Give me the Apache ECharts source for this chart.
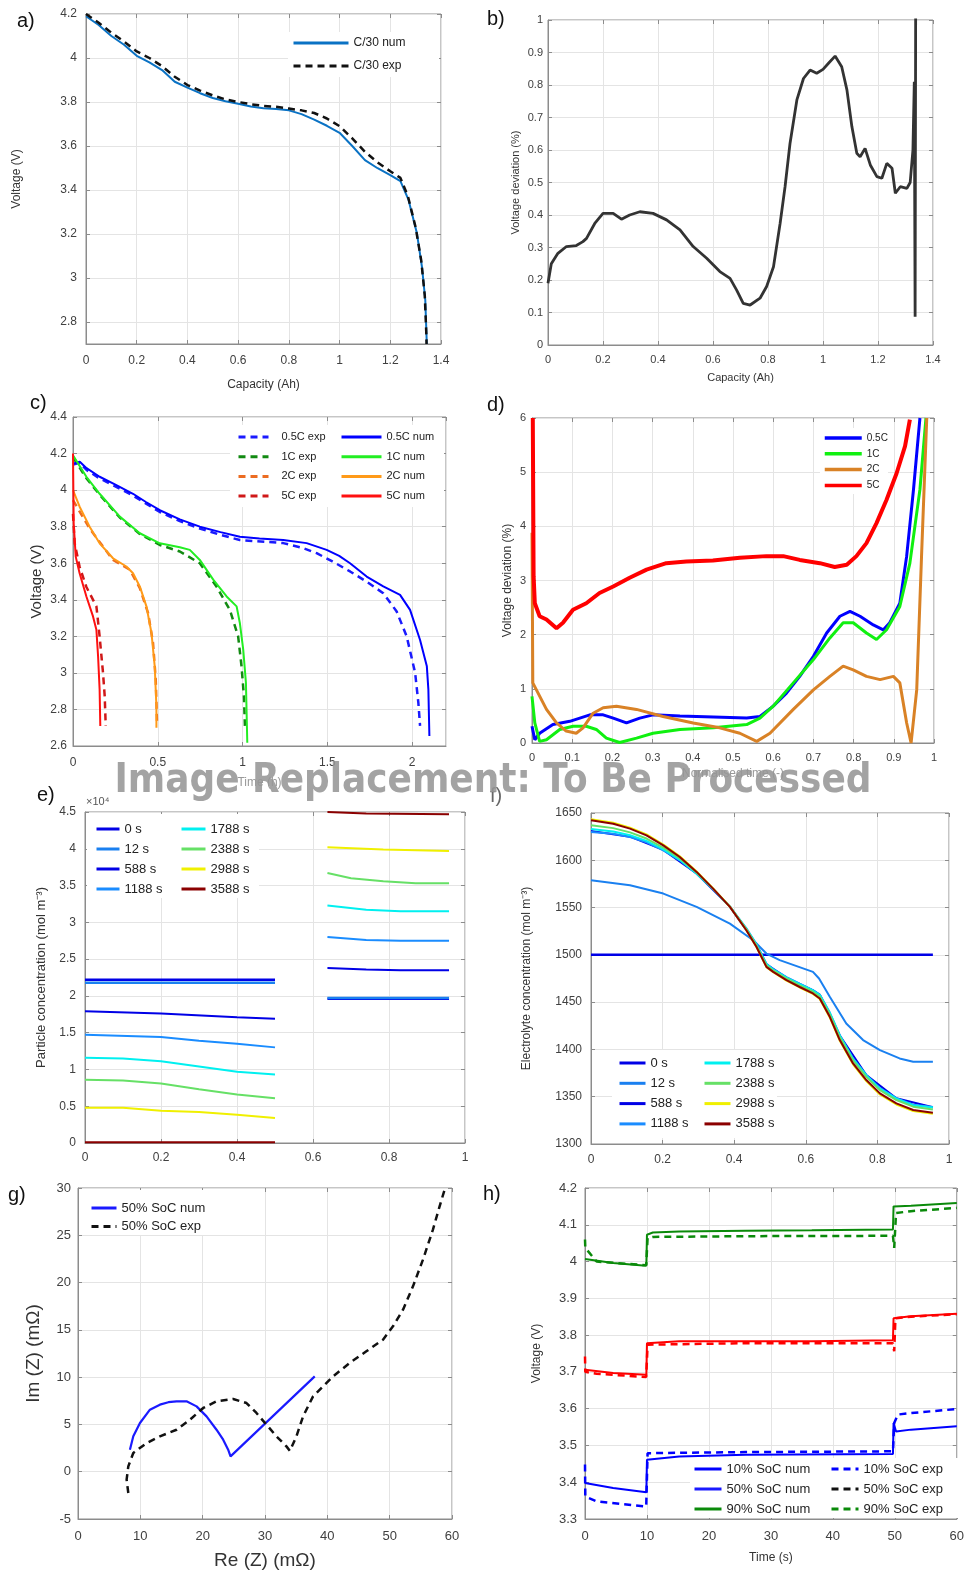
<!DOCTYPE html>
<html>
<head>
<meta charset="utf-8">
<script src="https://cdn.jsdelivr.net/npm/echarts@6/dist/echarts.min.js"></script>
<style>
html,body{margin:0;padding:0;background:#fff;}
#main{width:967px;height:1574px;}
</style>
</head>
<body>
<div id="main"></div>
<script>
// a) C/30 discharge, capacity (Ah) vs voltage (V)
const aVoltTicks = [2.8, 3, 3.2, 3.4, 3.6, 3.8, 4, 4.2];
const aNum = [[0,4.19],[0.05,4.15],[0.1,4.1],[0.15,4.06],[0.2,4.01],[0.25,3.98],[0.3,3.945],[0.35,3.892],[0.4,3.865],[0.45,3.84],[0.5,3.818],[0.55,3.803],[0.6,3.792],[0.65,3.78],[0.7,3.772],[0.75,3.768],[0.8,3.762],[0.85,3.745],[0.9,3.72],[0.95,3.692],[1.0,3.66],[1.05,3.6],[1.1,3.536],[1.15,3.499],[1.2,3.468],[1.24,3.44],[1.272,3.355],[1.305,3.203],[1.325,3.05],[1.338,2.9],[1.344,2.7]];
const aExp = [[0,4.2],[0.05,4.16],[0.1,4.115],[0.15,4.075],[0.2,4.03],[0.25,4.0],[0.3,3.963],[0.35,3.915],[0.4,3.877],[0.45,3.852],[0.5,3.83],[0.55,3.812],[0.6,3.8],[0.65,3.79],[0.7,3.782],[0.75,3.778],[0.8,3.77],[0.85,3.762],[0.9,3.75],[0.95,3.725],[1.0,3.69],[1.05,3.635],[1.1,3.574],[1.15,3.525],[1.2,3.485],[1.24,3.455],[1.27,3.37],[1.3,3.23],[1.322,3.08],[1.336,2.92],[1.342,2.75],[1.343,2.7]];

// b) voltage deviation (%)
const bDev = [[0,0.19],[0.012,0.25],[0.036,0.282],[0.067,0.303],[0.103,0.306],[0.127,0.318],[0.14,0.328],[0.17,0.374],[0.2,0.405],[0.237,0.405],[0.267,0.387],[0.297,0.4],[0.334,0.41],[0.382,0.405],[0.431,0.385],[0.48,0.354],[0.528,0.303],[0.577,0.267],[0.625,0.226],[0.662,0.205],[0.686,0.169],[0.71,0.128],[0.735,0.123],[0.771,0.144],[0.795,0.18],[0.82,0.241],[0.844,0.374],[0.862,0.487],[0.88,0.62],[0.905,0.754],[0.929,0.82],[0.953,0.846],[0.977,0.836],[1.0,0.848],[1.02,0.867],[1.044,0.889],[1.068,0.856],[1.087,0.785],[1.105,0.672],[1.123,0.59],[1.135,0.579],[1.153,0.605],[1.172,0.554],[1.196,0.518],[1.214,0.513],[1.232,0.559],[1.251,0.544],[1.263,0.467],[1.281,0.487],[1.305,0.482],[1.317,0.5],[1.327,0.6],[1.332,0.81],[1.335,0.087],[1.337,1.05]];

// c) rate tests, time (h) vs voltage (V)
const c05Exp = [[0,4.14],[0.04,4.15],[0.08,4.11],[0.157,4.064],[0.354,3.97],[0.512,3.88],[0.63,3.83],[0.748,3.79],[0.87,3.755],[0.984,3.727],[1.24,3.71],[1.35,3.685],[1.437,3.655],[1.53,3.61],[1.634,3.555],[1.73,3.5],[1.83,3.436],[1.909,3.336],[1.968,3.2],[2.018,3.0],[2.037,2.836],[2.047,2.71]];
const c1Exp = [[0,4.18],[0.079,4.065],[0.157,3.975],[0.276,3.85],[0.394,3.76],[0.512,3.7],[0.63,3.664],[0.748,3.6],[0.846,3.473],[0.925,3.345],[0.974,3.2],[0.994,3.036],[1.008,2.873],[1.014,2.71]];
const c2Exp = [[0,3.945],[0.098,3.79],[0.236,3.618],[0.335,3.564],[0.394,3.464],[0.443,3.327],[0.472,3.164],[0.488,2.964],[0.496,2.71]];
const c5Exp = [[0,3.87],[0.01,3.709],[0.039,3.58],[0.079,3.47],[0.138,3.364],[0.157,3.2],[0.177,3.0],[0.187,2.873],[0.193,2.71]];
const c05Num = [[0,4.145],[0.04,4.155],[0.08,4.12],[0.157,4.073],[0.25,4.03],[0.354,3.98],[0.43,3.935],[0.512,3.89],[0.63,3.84],[0.748,3.8],[0.87,3.77],[0.984,3.745],[1.1,3.735],[1.24,3.727],[1.378,3.71],[1.496,3.673],[1.57,3.64],[1.634,3.6],[1.732,3.527],[1.83,3.473],[1.929,3.427],[1.988,3.345],[2.047,3.18],[2.087,3.036],[2.096,2.91],[2.102,2.655]];
const c1Num = [[0,4.19],[0.079,4.073],[0.157,3.98],[0.276,3.855],[0.394,3.764],[0.512,3.709],[0.63,3.687],[0.689,3.673],[0.748,3.618],[0.827,3.51],[0.906,3.418],[0.965,3.364],[0.984,3.273],[1.004,3.127],[1.02,2.945],[1.028,2.618]];
const c2Num = [[0,4.0],[0.039,3.909],[0.098,3.8],[0.157,3.709],[0.236,3.627],[0.315,3.582],[0.354,3.545],[0.394,3.473],[0.433,3.364],[0.463,3.218],[0.482,3.036],[0.492,2.818],[0.492,2.7]];
const c5Num = [[0,4.2],[0.004,3.818],[0.016,3.636],[0.039,3.545],[0.079,3.418],[0.118,3.309],[0.138,3.236],[0.148,3.09],[0.157,2.909],[0.161,2.71]];

// d) voltage deviation (%) vs normalised time
const d05 = [[0,0.31],[0.007,0.06],[0.019,0.18],[0.052,0.34],[0.094,0.4],[0.144,0.52],[0.177,0.52],[0.202,0.46],[0.235,0.37],[0.268,0.46],[0.301,0.52],[0.368,0.5],[0.451,0.48],[0.534,0.46],[0.567,0.49],[0.6,0.68],[0.633,0.92],[0.666,1.23],[0.7,1.6],[0.733,2.03],[0.766,2.34],[0.791,2.43],[0.816,2.34],[0.849,2.18],[0.874,2.09],[0.89,2.22],[0.915,2.58],[0.932,3.45],[0.949,4.68],[0.965,6.0]];
const d1 = [[0,0.86],[0.007,0.37],[0.019,0.03],[0.036,0.06],[0.069,0.25],[0.102,0.31],[0.135,0.31],[0.16,0.25],[0.185,0.09],[0.218,0.01],[0.26,0.09],[0.301,0.18],[0.368,0.25],[0.451,0.28],[0.534,0.34],[0.567,0.46],[0.6,0.68],[0.65,1.11],[0.7,1.54],[0.741,1.94],[0.774,2.22],[0.799,2.22],[0.832,2.03],[0.857,1.91],[0.882,2.09],[0.915,2.52],[0.94,3.32],[0.965,4.68],[0.98,6.0]];
const d2 = [[0,3.88],[0.002,1.11],[0.011,0.98],[0.036,0.62],[0.061,0.37],[0.085,0.22],[0.11,0.18],[0.127,0.28],[0.152,0.55],[0.177,0.65],[0.21,0.68],[0.26,0.62],[0.326,0.49],[0.401,0.37],[0.467,0.28],[0.517,0.18],[0.559,0.03],[0.592,0.18],[0.65,0.62],[0.7,0.98],[0.741,1.23],[0.774,1.42],[0.799,1.35],[0.832,1.23],[0.866,1.17],[0.899,1.23],[0.915,1.11],[0.932,0.37],[0.943,0.0],[0.957,0.98],[0.969,3.45],[0.982,6.0]];
const d5 = [[0.002,6.0],[0.004,3.08],[0.007,2.58],[0.019,2.34],[0.036,2.28],[0.061,2.12],[0.077,2.22],[0.102,2.46],[0.135,2.58],[0.168,2.77],[0.202,2.89],[0.243,3.05],[0.285,3.2],[0.334,3.32],[0.384,3.35],[0.45,3.37],[0.517,3.42],[0.583,3.45],[0.625,3.45],[0.666,3.38],[0.716,3.32],[0.753,3.25],[0.783,3.29],[0.807,3.45],[0.832,3.69],[0.857,4.06],[0.882,4.49],[0.907,4.98],[0.928,5.48],[0.94,5.97]];

// e) particle concentration (x10^4 mol m-3), two electrodes
const e0 = [[0,2.22],[0.5,2.22],[0.57,'-'],[0.638,1.96],[0.958,1.96]];
const e12 = [[0,2.18],[0.5,2.18],[0.57,'-'],[0.638,1.97],[0.958,1.97]];
const e588 = [[0,1.79],[0.2,1.76],[0.4,1.71],[0.5,1.69],[0.57,'-'],[0.638,2.38],[0.74,2.36],[0.83,2.35],[0.958,2.35]];
const e1188 = [[0,1.47],[0.2,1.44],[0.3,1.39],[0.4,1.35],[0.5,1.3],[0.57,'-'],[0.638,2.8],[0.74,2.76],[0.83,2.75],[0.958,2.75]];
const e1788 = [[0,1.16],[0.1,1.15],[0.2,1.11],[0.3,1.04],[0.4,0.97],[0.5,0.93],[0.57,'-'],[0.638,3.23],[0.74,3.17],[0.83,3.15],[0.958,3.15]];
const e2388 = [[0,0.86],[0.1,0.85],[0.2,0.81],[0.3,0.73],[0.4,0.66],[0.5,0.61],[0.57,'-'],[0.638,3.67],[0.7,3.6],[0.785,3.56],[0.87,3.53],[0.958,3.53]];
const e2988 = [[0,0.48],[0.1,0.48],[0.2,0.44],[0.3,0.42],[0.4,0.385],[0.5,0.34],[0.57,'-'],[0.638,4.02],[0.785,3.99],[0.958,3.97]];
const e3588 = [[0,0.01],[0.5,0.01],[0.57,'-'],[0.638,4.5],[0.74,4.48],[0.958,4.47]];

// f) electrolyte concentration (mol m-3)
const f0 = [[0,1500],[0.955,1500]];
const f12 = [[0,1578.9],[0.109,1573.6],[0.202,1564.8],[0.295,1550.7],[0.388,1533],[0.453,1515.5],[0.49,1501.4],[0.527,1494.4],[0.62,1482],[0.637,1475],[0.667,1455.6],[0.713,1427.5],[0.76,1409.9],[0.807,1399.3],[0.862,1390.5],[0.9,1387],[0.955,1387]];
const f588 = [[0,1631],[0.109,1625],[0.202,1611],[0.295,1586],[0.388,1551],[0.462,1511],[0.49,1490],[0.546,1476],[0.62,1462.5],[0.639,1457.8],[0.695,1414.8],[0.769,1372.8],[0.853,1348.3],[0.955,1338.8]];
const f1188 = [[0,1630],[0.062,1628],[0.109,1624.5],[0.155,1619],[0.202,1610.5],[0.248,1600],[0.295,1585.8],[0.341,1569.5],[0.388,1551],[0.434,1528],[0.462,1511.5],[0.49,1490.5],[0.509,1485],[0.546,1476.5],[0.583,1469.5],[0.62,1462.8],[0.639,1458],[0.667,1439],[0.695,1415],[0.732,1390.5],[0.769,1373],[0.807,1359],[0.853,1348.5],[0.9,1341.5],[0.955,1339]];
const f1788 = [[0,1633],[0.062,1630.5],[0.109,1626.5],[0.155,1620.5],[0.202,1611.5],[0.248,1600.5],[0.295,1586],[0.341,1569.5],[0.388,1551],[0.434,1527.5],[0.462,1511],[0.49,1490],[0.509,1484.5],[0.546,1476],[0.583,1469],[0.62,1462.3],[0.639,1457.5],[0.667,1438.5],[0.695,1414.5],[0.732,1390],[0.769,1372.5],[0.807,1358.5],[0.853,1348],[0.9,1341],[0.955,1338.5]];
const f2388 = [[0,1637],[0.062,1634],[0.109,1629.5],[0.155,1623],[0.202,1613.5],[0.248,1602],[0.295,1587],[0.341,1570],[0.388,1551],[0.434,1527],[0.462,1510],[0.49,1489],[0.509,1483.5],[0.546,1475],[0.583,1467.8],[0.62,1461],[0.639,1456],[0.667,1437],[0.695,1413],[0.732,1388.5],[0.769,1371],[0.807,1357],[0.853,1346.5],[0.9,1339.5],[0.955,1336.5]];
const f2988 = [[0,1643.5],[0.062,1639.8],[0.109,1634.5],[0.155,1627.4],[0.202,1616.6],[0.248,1604.2],[0.295,1588.2],[0.341,1570.3],[0.388,1550.9],[0.434,1526.1],[0.462,1508.4],[0.49,1487],[0.509,1481.6],[0.546,1472.8],[0.583,1465.5],[0.62,1458.7],[0.639,1453.3],[0.667,1433.8],[0.695,1409.1],[0.732,1384.3],[0.769,1366.6],[0.807,1352.4],[0.853,1341.8],[0.9,1334.8],[0.955,1332]];
const f3588 = [[0,1642.3],[0.062,1638.7],[0.109,1633.5],[0.155,1626.4],[0.202,1615.8],[0.248,1603.5],[0.295,1587.7],[0.341,1570],[0.388,1550.7],[0.434,1526],[0.462,1508.5],[0.49,1487.3],[0.509,1482],[0.546,1473.2],[0.583,1466],[0.62,1459.2],[0.639,1453.9],[0.667,1434.5],[0.695,1409.9],[0.732,1385.2],[0.769,1367.6],[0.807,1353.5],[0.853,1343],[0.9,1336],[0.955,1333.1]];

// g) Nyquist plot, Re(Z) vs Im(Z) in mOhm
const gNum = [[8.33,2.33],[8.87,3.74],[9.94,5.15],[11.54,6.56],[13.14,7.09],[14.5,7.35],[15.81,7.44],[17.41,7.44],[19.02,6.91],[20.62,5.85],[22.22,4.44],[23.29,3.39],[24.09,2.33],[24.47,1.62],[37.98,10.08]];
const gExp = [[8.07,-2.25],[7.8,-0.84],[8.07,0.57],[8.87,1.98],[11,3.03],[13.14,3.74],[15.81,4.44],[17.95,5.5],[20.09,6.74],[22.22,7.44],[24.89,7.69],[27.03,7.26],[28.63,6.21],[30.24,4.97],[31.84,3.74],[33.44,2.68],[34.0,2.2],[35.04,3.74],[36.11,5.85],[37.71,7.97],[39.32,9.03],[40.92,10.08],[43.59,11.5],[46.26,12.73],[48.93,13.96],[50.53,15.37],[52.14,17.13],[53.74,19.6],[55.34,22.42],[56.94,25.6],[58.01,28.06],[58.81,29.82]];

// h) pulse tests, time (s) vs voltage (V)
const hNum10 = [[0,3.398],[4.54,3.384],[9.9,3.373],[10,3.461],[15.2,3.47],[25.9,3.475],[49.7,3.477],[49.8,3.561],[50.2,3.538],[52.6,3.543],[60,3.552]];
const hNum50 = [[0,3.706],[4.54,3.697],[9.9,3.692],[10,3.778],[15.2,3.783],[36.6,3.783],[49.7,3.786],[49.8,3.846],[52.6,3.851],[60,3.858]];
const hNum90 = [[0,4.007],[4.54,3.996],[9.35,3.989],[9.9,3.989],[10,4.073],[10.95,4.079],[15.2,4.082],[25.9,4.084],[36.6,4.085],[49.7,4.087],[49.8,4.15],[52.6,4.152],[60,4.159]];
const hExp10 = [[0,3.448],[0.05,3.361],[1.87,3.348],[9.88,3.334],[10.1,3.479],[25.9,3.482],[49.7,3.484],[49.9,3.561],[50.5,3.584],[52.6,3.588],[60,3.599]];
const hExp50 = [[0,3.742],[0.05,3.7],[1.87,3.695],[9.88,3.686],[10.1,3.774],[25.9,3.778],[49.7,3.778],[49.9,3.756],[50.1,3.846],[52.6,3.85],[60,3.857]];
const hExp90 = [[0,4.06],[0.05,4.037],[1.87,4.0],[9.88,3.99],[10.1,4.064],[10.95,4.067],[25.9,4.069],[49.7,4.07],[49.9,4.037],[50.2,4.132],[52.6,4.137],[60,4.146]];

const FONT = '"Liberation Sans", Arial, sans-serif';
const grids = [
  {left: 86, top: 14, width: 355, height: 330},
  {left: 548, top: 20, width: 385, height: 325},
  {left: 73, top: 417, width: 373, height: 329},
  {left: 532, top: 418, width: 402, height: 325},
  {left: 85, top: 812, width: 380, height: 331},
  {left: 591, top: 813, width: 358, height: 331},
  {left: 78, top: 1188, width: 374, height: 331},
  {left: 585, top: 1188, width: 374, height: 331}
].map(g => Object.assign({show: true, borderColor: '#8c8c8c', borderWidth: 1}, g));

function axis(gi, min, max, step, o) {
  const ax = {
    type: 'value', gridIndex: gi, min, max, interval: step,
    name: o.name || '', nameLocation: 'middle', nameGap: o.nameGap || 20, nameRotate: o.rot || 0,
    nameTextStyle: {fontFamily: FONT, fontSize: o.nameSize || 12, color: o.nameColor || '#333'},
    axisLine: {show: true, onZero: false, lineStyle: {color: '#8c8c8c'}},
    axisTick: {show: true, inside: true, length: 4, lineStyle: {color: '#8c8c8c'}},
    axisLabel: {fontFamily: FONT, fontSize: o.size || 12, color: '#404040', margin: o.margin || 8,
      showMaxLabel: o.hideMax ? false : true,
      formatter: v => String(Math.round(v * 1e6) / 1e6)},
    splitLine: {show: true, lineStyle: {color: '#e4e4e4', width: 1}}
  };
  if (o.custom) {
    delete ax.interval;
    ax.axisTick.customValues = o.custom;
    ax.axisLabel.customValues = o.custom;
  }
  return ax;
}
// mirror axis on the opposite side: only inward ticks, like a MATLAB box
function mirror(ax, position) {
  const m = JSON.parse(JSON.stringify(ax));
  m.position = position;
  m.name = '';
  m.axisLine = {show: false, onZero: false};
  m.axisLabel = {show: false};
  if (ax.axisLabel.customValues) m.axisLabel.customValues = ax.axisLabel.customValues;
  m.splitLine = {show: false};
  return m;
}

const xMain = [
  axis(0, 0, 1.4, 0.2, {name: 'Capacity (Ah)', nameGap: 35, margin: 11, size: 12}),
  axis(1, 0, 1.4, 0.2, {name: 'Capacity (Ah)', nameGap: 27, margin: 9, size: 11, nameSize: 11}),
  axis(2, 0, 2.2, 0.5, {name: 'Time (h)', nameGap: 31, margin: 11, size: 12, hideMax: true, nameColor: '#999'}),
  axis(3, 0, 1, 0.1, {name: 'Normalised time (-)', nameGap: 25, margin: 9, size: 11, nameColor: '#999'}),
  axis(4, 0, 1, 0.2, {margin: 9, size: 12}),
  axis(5, 0, 1, 0.2, {margin: 10, size: 12}),
  axis(6, 0, 60, 10, {name: 'Re (Z) (m\u03a9)', nameGap: 32, margin: 11, size: 13, nameSize: 19}),
  axis(7, 0, 60, 10, {name: 'Time (s)', nameGap: 33, margin: 11, size: 13})
];
const yMain = [
  axis(0, 2.7, 4.2, null, {name: 'Voltage (V)', nameGap: 63, rot: 90, margin: 9, custom: aVoltTicks}),
  axis(1, 0, 1, 0.1, {name: 'Voltage deviation (%)', nameGap: 27, rot: 90, margin: 5, size: 11, nameSize: 11}),
  axis(2, 2.6, 4.4, 0.2, {name: 'Voltage (V)', nameGap: 29, rot: 90, margin: 6, size: 12, nameSize: 15}),
  axis(3, 0, 6, 1, {name: 'Voltage deviation (%)', nameGap: 18, rot: 90, margin: 6, size: 11}),
  axis(4, 0, 4.5, 0.5, {name: 'Particle concentration (mol m\u207b\u00b3)', nameGap: 37, rot: 90, margin: 9, size: 12, nameSize: 13}),
  axis(5, 1300, 1650, 50, {name: 'Electrolyte concentration (mol m\u207b\u00b3)', nameGap: 58, rot: 90, margin: 9, size: 12}),
  axis(6, -5, 30, 5, {name: 'Im (Z) (m\u03a9)', nameGap: 35, rot: 90, margin: 7, size: 13, nameSize: 19}),
  axis(7, 3.3, 4.2, 0.1, {name: 'Voltage (V)', nameGap: 42, rot: 90, margin: 8, size: 13})
];
xMain.forEach(a => a.position = 'bottom');
yMain.forEach(a => a.position = 'left');
const xAxis = xMain.concat(xMain.map(a => mirror(a, 'top')));
const yAxis = yMain.concat(yMain.map(a => mirror(a, 'right')));

function ln(gi, name, data, color, width, dash) {
  return {
    type: 'line', name, data, xAxisIndex: gi, yAxisIndex: gi,
    symbol: 'none', showSymbol: false, animation: false, clip: true,
    lineStyle: {color, width, type: dash || 'solid'}, itemStyle: {color}
  };
}
const DASH = [7, 5];

const series = [
  ln(0, 'C/30 num', aNum, '#0a72c4', 2),
  ln(0, 'C/30 exp', aExp, '#111', 2.5, DASH),
  ln(1, 'deviation', bDev, '#333', 2.8),
  ln(2, '0.5C exp', c05Exp, '#1a1aff', 2.5, DASH),
  ln(2, '1C exp', c1Exp, '#128a12', 2.5, DASH),
  ln(2, '2C exp', c2Exp, '#ec6c22', 2.5, DASH),
  ln(2, '5C exp', c5Exp, '#d01818', 2.5, DASH),
  ln(2, '0.5C num', c05Num, '#0000ff', 2),
  ln(2, '1C num', c1Num, '#22ee22', 2),
  ln(2, '2C num', c2Num, '#ff9a18', 2),
  ln(2, '5C num', c5Num, '#ff1010', 2),
  ln(3, '0.5C', d05, '#0000ff', 3),
  ln(3, '1C', d1, '#10f010', 3),
  ln(3, '2C', d2, '#d98226', 3),
  ln(3, '5C', d5, '#ff0000', 4),
  ln(4, '0 s', e0, '#0000e6', 2.5),
  ln(4, '12 s', e12, '#1a80f0', 2.5),
  ln(4, '588 s', e588, '#0000e6', 2),
  ln(4, '1188 s', e1188, '#1a8cff', 2),
  ln(4, '1788 s', e1788, '#00f0f0', 2),
  ln(4, '2388 s', e2388, '#66e066', 2),
  ln(4, '2988 s', e2988, '#f0f000', 2),
  ln(4, '3588 s', e3588, '#8b0000', 2),
  ln(5, '0 s', f0, '#0000e6', 2.5),
  ln(5, '12 s', f12, '#1a80f0', 2),
  ln(5, '588 s', f588, '#0000e6', 2),
  ln(5, '1188 s', f1188, '#1a8cff', 2),
  ln(5, '1788 s', f1788, '#00f0f0', 2),
  ln(5, '2388 s', f2388, '#66e066', 2),
  ln(5, '2988 s', f2988, '#f0f000', 2),
  ln(5, '3588 s', f3588, '#8b0000', 2),
  ln(6, '50% SoC num', gNum, '#1a1aff', 2.2),
  ln(6, '50% SoC exp', gExp, '#111', 2.5, DASH),
  ln(7, '10% SoC num', hNum10, '#0000ff', 2),
  ln(7, '50% SoC num', hNum50, '#ff0000', 2),
  ln(7, '90% SoC num', hNum90, '#0a8a0a', 2),
  ln(7, '10% SoC exp', hExp10, '#0000ff', 2.5, DASH),
  ln(7, '50% SoC exp', hExp50, '#ff0000', 2.5, DASH),
  ln(7, '90% SoC exp', hExp90, '#0a8a0a', 2.5, DASH)
];

function lg(names, x, yFirst, itemW, pitch, fs, pad, lw) {
  return {
    orient: 'vertical', left: x, top: yFirst - 7, padding: 0, z: 10,
    itemWidth: itemW, itemHeight: 14, itemGap: pitch - 14, selectedMode: false,
    itemStyle: {opacity: 0},
    lineStyle: {width: lw || 3},
    textStyle: {fontFamily: FONT, fontSize: fs, color: '#222', lineHeight: 14, padding: [0, 0, 0, pad || 0]},
    data: names
  };
}
const legend = [
  lg(['C/30 num', 'C/30 exp'], 292, 43, 55, 23, 12),
  lg(['0.5C exp', '1C exp', '2C exp', '5C exp'], 237, 437, 30, 19.7, 11, 8),
  lg(['0.5C num', '1C num', '2C num', '5C num'], 340, 437, 40, 19.7, 11),
  lg(['0.5C', '1C', '2C', '5C'], 823, 438, 37, 15.8, 10, 0, 3.5),
  lg(['0 s', '12 s', '588 s', '1188 s'], 95, 829, 23, 20, 13),
  lg(['1788 s', '2388 s', '2988 s', '3588 s'], 180, 829, 24, 20, 13),
  lg(['0 s', '12 s', '588 s', '1188 s'], 618, 1063, 26, 20.3, 13),
  lg(['1788 s', '2388 s', '2988 s', '3588 s'], 703, 1063, 26, 20.3, 13),
  lg(['50% SoC num', '50% SoC exp'], 90, 1208, 25, 18.4, 13),
  lg(['10% SoC num', '50% SoC num', '90% SoC num'], 693, 1469, 27, 20, 13),
  lg(['10% SoC exp', '50% SoC exp', '90% SoC exp'], 830, 1469, 27, 20, 13)
];

function cover(x, y, w, h) {
  return {type: 'rect', z: 3, shape: {x, y, width: w, height: h}, style: {fill: '#fff'}};
}
function tag(text, x, y, size, color) {
  return {type: 'text', z: 20, x, y, style: {text, font: (size || 20) + 'px ' + FONT, fill: color || '#111',
    textAlign: 'left', textVerticalAlign: 'middle', align: 'left', verticalAlign: 'middle'}};
}

const wmText = 'Image Replacement: To Be Processed';
const wmFont = 'bold 40px "DejaVu Sans"';
const ctx = document.createElement('canvas').getContext('2d');
ctx.font = wmFont;
const wmScale = 757 / ctx.measureText(wmText).width;

const graphic = [
  cover(288, 32, 151, 45),
  cover(230, 425, 214, 82),
  cover(820, 428, 68, 66),
  cover(87, 814, 172, 84),
  cover(612, 1050, 165, 88),
  cover(80, 1190, 150, 45),
  cover(690, 1458, 268, 60),
  tag('a)', 17, 21),
  tag('b)', 487, 19),
  tag('c)', 30, 403),
  tag('d)', 487, 405),
  tag('e)', 37, 795),
  tag('f)', 490, 796, 20, '#666'),
  tag('g)', 8, 1195),
  tag('h)', 483, 1194),
  tag('\u00d710\u2074', 86, 802, 11, '#555'),
  {type: 'text', z: 50, x: 493, y: 782, scaleX: wmScale,
    style: {text: wmText, font: wmFont, fill: 'rgba(150,150,150,0.88)',
      textAlign: 'center', textVerticalAlign: 'middle', align: 'center', verticalAlign: 'middle'}}
];

const option = {
  backgroundColor: '#fff',
  animation: false,
  grid: grids,
  xAxis,
  yAxis,
  legend,
  series,
  graphic
};

const myChart = echarts.init(document.getElementById('main'), null, {renderer: 'canvas'});
myChart.setOption(option);
</script>
</body>
</html>
